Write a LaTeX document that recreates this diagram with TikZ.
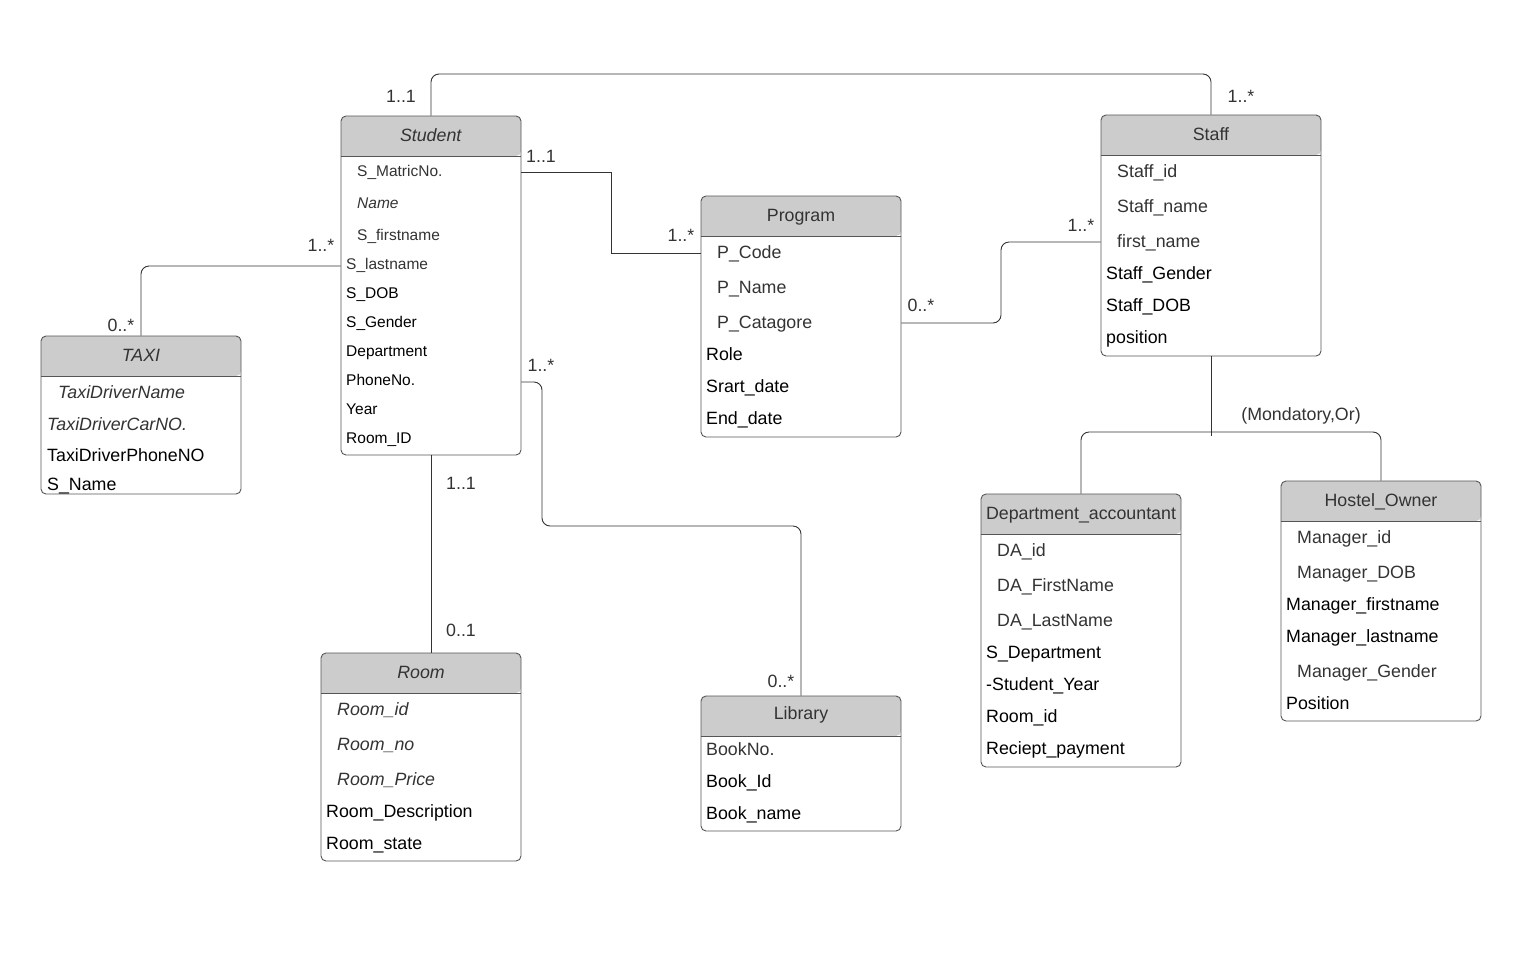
\documentclass[tikz,border=0pt]{standalone}
\usepackage{fontspec}
\setmainfont{Liberation Sans}
\usetikzlibrary{fit}
\definecolor{hdrc}{HTML}{CCCCCC}
\definecolor{boxc}{HTML}{555555}
\definecolor{linec}{HTML}{333333}
\definecolor{txtg}{HTML}{333333}
\newcommand\fs{\fontsize{17.8}{21}\selectfont}
\newcommand\fss{\fontsize{15.5}{18}\selectfont}
\newcommand\entity[5]{%
  \fill[hdrc] (#2,#3+40) [rounded corners=5pt] -- (#2,#3) -- (#4,#3) -- (#4,#3+40) [sharp corners] -- cycle;
  \draw[boxc, line width=0.9pt] (#2,#3+40) -- (#4,#3+40);
  \node[ent, fit={(#2,#3) (#4,#5)}] (#1) {};
}
\tikzset{
  ent/.style={draw=boxc, rounded corners=5pt, line width=0.9pt, inner sep=0pt},
  ttl/.style={anchor=base, inner sep=0pt, text=txtg, font=\fs},
  ag/.style={anchor=base west, inner sep=0pt, text=txtg, font=\fs},
  ab/.style={ag, text=black},
  sg/.style={ag, font=\fss},
  sb/.style={sg, text=black},
  conn/.style={draw=linec, line width=0.9pt, rounded corners=8pt},
  mult/.style={anchor=base, inner sep=0pt, text=txtg, font=\fs}
}
\begin{document}
\begin{tikzpicture}[x=1pt, y=-1pt]
\useasboundingbox (0,0) rectangle (1518,967);
\fill[white] (0,0) rectangle (1518,967);

% entities
\entity{student}{341}{116}{521}{455}
\entity{taxi}{41}{336}{241}{494}
\entity{program}{701}{196}{901}{437}
\entity{staff}{1101}{115}{1321}{356}
\entity{da}{981}{494}{1181}{767}
\entity{ho}{1281}{481}{1481}{721}
\entity{room}{321}{653}{521}{861}
\entity{library}{701}{696}{901}{831}

% titles
\node[ttl] (student-t) at (431,141) {\textit{Student}};
\node[ttl] (taxi-t) at (141,361) {\textit{TAXI}};
\node[ttl] (program-t) at (801,221) {Program};
\node[ttl] (staff-t) at (1211,140) {Staff};
\node[ttl] (da-t) at (1081,519) {Department\_accountant};
\node[ttl] (ho-t) at (1381,506) {Hostel\_Owner};
\node[ttl] (room-t) at (421,678) {\textit{Room}};
\node[ttl] (library-t) at (801,719) {Library};

% Student attributes
\node[sg] (sa1) at (357,176) {S\_MatricNo.};
\node[sg] (sa2) at (357,208) {\textit{Name}};
\node[sg] (sa3) at (357,240) {S\_firstname};
\node[sg] (sa4) at (346,269) {S\_lastname};
\node[sb] (sa5) at (346,298) {S\_DOB};
\node[sb] (sa6) at (346,327) {S\_Gender};
\node[sb] (sa7) at (346,356) {Department};
\node[sb] (sa8) at (346,385) {PhoneNo.};
\node[sb] (sa9) at (346,414) {Year};
\node[sb] (sa10) at (346,443) {Room\_ID};

% TAXI attributes
\node[ag] (ta1) at (58,398) {\textit{TaxiDriverName}};
\node[ag] (ta2) at (47,430) {\textit{TaxiDriverCarNO.}};
\node[ab] (ta3) at (47,461) {TaxiDriverPhoneNO};
\node[ab] (ta4) at (47,490) {S\_Name};

% Program attributes
\node[ag] (pa1) at (717,258) {P\_Code};
\node[ag] (pa2) at (717,293) {P\_Name};
\node[ag] (pa3) at (717,328) {P\_Catagore};
\node[ab] (pa4) at (706,360) {Role};
\node[ab] (pa5) at (706,392) {Srart\_date};
\node[ab] (pa6) at (706,424) {End\_date};

% Staff attributes
\node[ag] (st1) at (1117,177) {Staff\_id};
\node[ag] (st2) at (1117,212) {Staff\_name};
\node[ag] (st3) at (1117,247) {first\_name};
\node[ab] (st4) at (1106,279) {Staff\_Gender};
\node[ab] (st5) at (1106,311) {Staff\_DOB};
\node[ab] (st6) at (1106,343) {position};

% Department_accountant attributes
\node[ag] (da1) at (997,556) {DA\_id};
\node[ag] (da2) at (997,591) {DA\_FirstName};
\node[ag] (da3) at (997,626) {DA\_LastName};
\node[ab] (da4) at (986,658) {S\_Department};
\node[ab] (da5) at (986,690) {-Student\_Year};
\node[ab] (da6) at (986,722) {Room\_id};
\node[ab] (da7) at (986,754) {Reciept\_payment};

% Hostel_Owner attributes
\node[ag] (ho1) at (1297,543) {Manager\_id};
\node[ag] (ho2) at (1297,578) {Manager\_DOB};
\node[ab] (ho3) at (1286,610) {Manager\_firstname};
\node[ab] (ho4) at (1286,642) {Manager\_lastname};
\node[ag] (ho5) at (1297,677) {Manager\_Gender};
\node[ab] (ho6) at (1286,709) {Position};

% Room attributes
\node[ag] (ra1) at (337,715) {\textit{Room\_id}};
\node[ag] (ra2) at (337,750) {\textit{Room\_no}};
\node[ag] (ra3) at (337,785) {\textit{Room\_Price}};
\node[ab] (ra4) at (326,817) {Room\_Description};
\node[ab] (ra5) at (326,849) {Room\_state};

% Library attributes
\node[ag] (la1) at (706,755) {BookNo.};
\node[ab] (la2) at (706,787) {Book\_Id};
\node[ab] (la3) at (706,819) {Book\_name};

% connectors
\draw[conn] (student.north) -- (431,74) -- (1211,74) -- (staff.north);
\draw[conn, sharp corners] (student.east |- 0,172) -- (611,172) -- (611,253) -- (program.west |- 0,253);
\draw[conn] (program.east |- 0,323) -- (1001,323) -- (1001,242) -- (staff.west |- 0,242);
\draw[conn] (student.west |- 0,266) -- (141,266) -- (taxi.north);
\draw[conn] (student.east |- 0,382) -- (542,382) -- (542,526) -- (801,526) -- (library.north);
\draw[conn] (student.south) -- (student.south |- room.north);
\draw[conn] (staff.south) -- (1211,436);
\draw[conn] (da.north) -- (1081,432) -- (1381,432) -- (ho.north);

% multiplicities
\node[mult] (m1) at (401,102) {1..1};
\node[mult] (m2) at (1241,102) {1..*};
\node[mult] (m3) at (541,162) {1..1};
\node[mult] (m4) at (681,241) {1..*};
\node[mult] (m5) at (921,311) {0..*};
\node[mult] (m6) at (1081,231) {1..*};
\node[mult] (m7) at (321,251) {1..*};
\node[mult] (m8) at (121,331) {0..*};
\node[mult] (m9) at (541,371) {1..*};
\node[mult] (m10) at (781,687) {0..*};
\node[mult] (m11) at (461,489) {1..1};
\node[mult] (m12) at (461,636) {0..1};
\node[mult] (m13) at (1301,420) {(Mondatory,Or)};
\end{tikzpicture}
\end{document}
